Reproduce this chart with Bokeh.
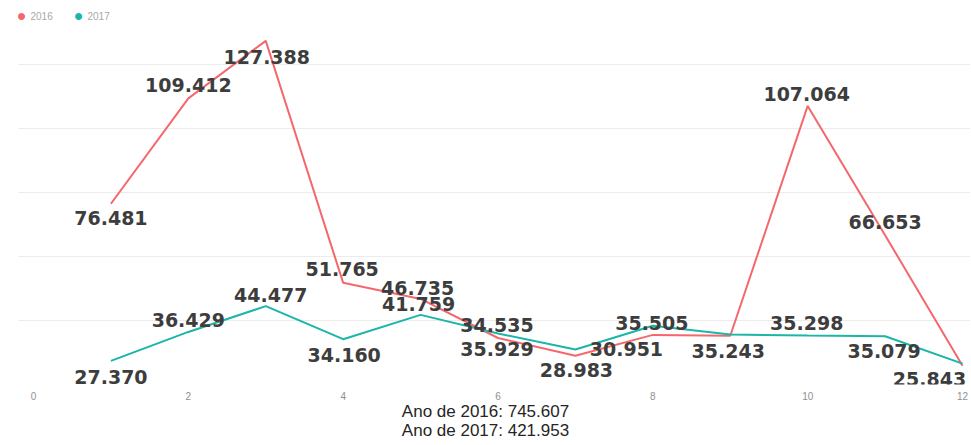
from bokeh.plotting import figure
from bokeh.models import ColumnDataSource, Range1d, FixedTicker, Label, Title
from bokeh.core.properties import value
from bokeh.embed import file_html
from bokeh.resources import INLINE

# ---- data ----
months = list(range(1, 13))
series_names = ["2016", "2017"]
sales_2016 = [76481, 109412, 127388, 51765, 46735, 34535, 28983, 35505, 35243, 107064, 66653, 25843]
sales_2017 = [27370, 36429, 44477, 34160, 41759, 35929, 30951, 38350, 35620, 35298, 35079, 26531]
x_ticks = [0, 2, 4, 6, 8, 10, 12]
y_grid = [20000, 40000, 60000, 80000, 100000, 120000]

# ---- label display config (which labels are visible and their pixel offsets) ----
show_2016 = [True] * 12
show_2017 = [True, True, True, True, True, True, True, False, False, True, True, False]
off_2016 = [(0, 14), (0, -13), (1, 16), (-1, -14), (-3, -11), (-1, -13),
            (1, 14), (-1, -12), (-2, 15), (-1, -12), (0, -13), (-33, 13)]
off_2017 = [(0, 16), (0, -12), (5, -11), (1, 16), (-2, -11), (-1, 15),
            (51, 0), (0, 0), (0, 0), (-1, -13), (-1, 15), (0, 0)]

RED = "#F4676C"
TEAL = "#1BB5A9"


def fmt(v):
    return f"{v:,}".replace(",", ".")


FW, FH = 970, 384
p = figure(frame_width=FW, frame_height=FH, output_backend="svg", toolbar_location=None,
           x_range=Range1d(-0.4263, 12.103), y_range=Range1d(20000, 140000),
           min_border_left=0, min_border_right=0, min_border_top=0, min_border_bottom=0)
p.outline_line_color = None
p.background_fill_color = "white"
p.border_fill_color = "white"

p.xgrid.visible = False
p.yaxis.visible = False
p.ygrid.ticker = FixedTicker(ticks=y_grid)
p.ygrid.cross_bounds = (-0.2, 12.103)
p.ygrid.grid_line_color = "#ececec"
p.ygrid.grid_line_width = 1

p.xaxis.ticker = FixedTicker(ticks=x_ticks)
p.xaxis.axis_line_color = None
p.xaxis.major_tick_line_color = None
p.xaxis.minor_tick_line_color = None
p.xaxis.major_tick_out = 0
p.xaxis.major_tick_in = 0
p.xaxis.major_label_standoff = 7
p.xaxis.major_label_text_font = "Liberation Sans"
p.xaxis.major_label_text_font_size = "10px"
p.xaxis.major_label_text_color = "#8f8f8f"

p.line(months, sales_2016, line_color=RED, line_width=2)
p.line(months, sales_2017, line_color=TEAL, line_width=2)

lx, ly, lt, ldx, ldy = [], [], [], [], []
for vals, show, offs in ((sales_2016, show_2016, off_2016), (sales_2017, show_2017, off_2017)):
    for m, v, s, (dx, dy) in zip(months, vals, show, offs):
        if s:
            lx.append(m); ly.append(v); lt.append(fmt(v)); ldx.append(dx); ldy.append(dy)
src = ColumnDataSource(dict(x=lx, y=ly, t=lt, dx=ldx, dy=ldy))
p.text(x="x", y="y", text="t", x_offset="dx", y_offset="dy", source=src,
       text_font=value("DejaVu Sans"), text_font_style="bold", text_font_size="19px",
       text_color="#3d3d3d", text_align="center", text_baseline="middle")

# legend (manual; screen coords relative to the frame's bottom-left)
for i, (name, col) in enumerate(zip(series_names, [RED, TEAL])):
    x0 = 21 + i * 57
    p.add_layout(Label(x=x0, y=FH - 15, x_units="screen", y_units="screen", text="●",
                       text_color=col, text_font_size="16px", text_align="center",
                       text_baseline="middle"))
    p.add_layout(Label(x=x0 + 9, y=FH - 15, x_units="screen", y_units="screen", text=name,
                       text_color="#a8a8a8", text_font_size="10px", text_font="Liberation Sans",
                       text_align="left", text_baseline="middle"))

# totals under the axis
tot = [sum(sales_2016), sum(sales_2017)]
for i, (name, t) in enumerate(zip(series_names, tot)):
    p.add_layout(Title(text=f"Ano de {name}: {fmt(t)}", align="center",
                       standoff=-6 if i == 0 else 3, text_font="Liberation Sans",
                       text_font_size="17px", text_font_style="normal",
                       text_color="#252525"), "below")

open("out.html", "w").write(file_html(p, INLINE))
